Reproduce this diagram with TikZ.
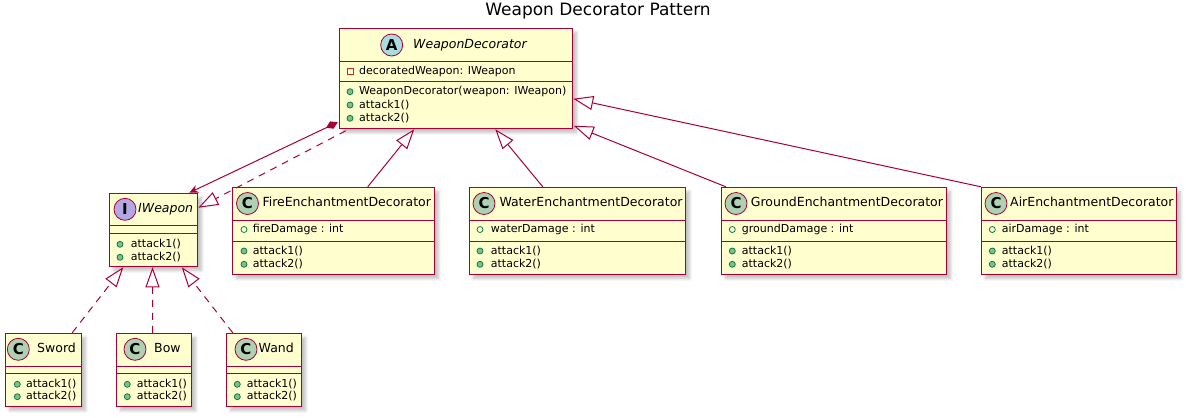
\documentclass[tikz,border=0pt]{standalone}
\usepackage{fontspec}
\setmainfont{DejaVu Sans}
\usetikzlibrary{arrows.meta,shadows.blur,calc}
\definecolor{umlred}{HTML}{A80036}
\definecolor{umlfill}{HTML}{FEFECE}
\definecolor{iconC}{HTML}{ADD1B2}
\definecolor{iconA}{HTML}{A9DCDF}
\definecolor{iconI}{HTML}{B4A7E5}
\definecolor{pubfill}{HTML}{84BE84}
\definecolor{pubdraw}{HTML}{038048}
\definecolor{privdraw}{HTML}{C82930}
\begin{document}
\begin{tikzpicture}[x=1bp,y=-1bp,
  cls/.style={draw=umlred, fill=umlfill, line width=1.5bp, inner sep=0pt,
    blur shadow={shadow xshift=4bp, shadow yshift=-4bp, shadow blur radius=3bp, shadow blur steps=8, shadow opacity=25}},
  icon/.style={circle, draw=umlred, line width=0.8bp, minimum size=22bp, inner sep=0pt,
    font=\fontsize{15bp}{15bp}\selectfont\bfseries},
  cname/.style={anchor=west, inner sep=0pt, text height=9bp, text depth=2.5bp, font=\fontsize{12.5bp}{14bp}\selectfont},
  mem/.style={anchor=west, inner sep=0pt, text height=8.5bp, text depth=2.5bp, font=\fontsize{11bp}{13bp}\selectfont},
  divl/.style={draw=umlred, line width=1.2bp},
  ext/.style={draw=umlred, line width=1bp, -{Triangle[length=20bp,width=14bp,fill=white]}},
  realz/.style={ext, dash pattern=on 7bp off 6bp},
  comp/.style={draw=umlred, line width=1bp, {Diamond[length=13bp,width=8bp,fill=umlred]}-{Stealth[length=9bp,width=8bp,fill=umlred]}},
  pubm/.style={fill=pubfill, draw=pubdraw, line width=0.8bp},
  pubf/.style={draw=pubdraw, line width=0.8bp},
  privf/.style={draw=privdraw, line width=0.8bp}
]
\path[use as bounding box] (0,0) rectangle (1186,417);

% title
\node[inner sep=0pt, font=\fontsize{17bp}{19bp}\selectfont] (title) at (598,11) {Weapon Decorator Pattern};

% ---------- WeaponDecorator ----------
\node[cls, minimum width=233bp, minimum height=100bp] (wd) at (456,78.5) {};
\draw[divl] (339.5,61.5) -- (572.5,61.5);
\draw[divl] (339.5,81.5) -- (572.5,81.5);
\node[icon, fill=iconA] (wdI) at (391.7,45) {A};
\node[cname, font=\fontsize{12.5bp}{14bp}\selectfont\itshape] (wdN) at (413,45) {WeaponDecorator};
\draw[privf] (347,68.7) rectangle (353,74.7);
\node[mem] (wdF1) at (359,71.7) {decoratedWeapon: IWeapon};
\fill[pubm] (350,91.7) circle (3bp);
\node[mem] (wdM1) at (359,91.7) {WeaponDecorator(weapon: IWeapon)};
\fill[pubm] (350,105) circle (3bp);
\node[mem] (wdM2) at (359,105) {attack1()};
\fill[pubm] (350,118.3) circle (3bp);
\node[mem] (wdM3) at (359,118.3) {attack2()};

% ---------- IWeapon ----------
\node[cls, minimum width=88bp, minimum height=73bp] (iw) at (153.5,230) {};
\draw[divl] (109.5,225.5) -- (197.5,225.5);
\draw[divl] (109.5,233.5) -- (197.5,233.5);
\node[icon, fill=iconI] (iwI) at (125,209.3) {I};
\node[cname, font=\fontsize{12.5bp}{14bp}\selectfont\itshape] (iwN) at (138,209.3) {IWeapon};
\fill[pubm] (120,244.3) circle (3bp);
\node[mem] (iwM1) at (130.7,244.3) {attack1()};
\fill[pubm] (120,257.3) circle (3bp);
\node[mem] (iwM2) at (130.7,257.3) {attack2()};

% ---------- FireEnchantmentDecorator ----------
\node[cls, minimum width=202bp, minimum height=87bp] (fire) at (333.5,231) {};
\draw[divl] (232.5,220.5) -- (434.5,220.5);
\draw[divl] (232.5,241.5) -- (434.5,241.5);
\node[icon, fill=iconC] (fireI) at (247.5,203.5) {C};
\node[cname] (fireN) at (262.3,203.5) {FireEnchantmentDecorator};
\draw[pubf] (244,229.5) circle (3bp);
\node[mem] (fireF1) at (252.7,229.5) {fireDamage : int};
\fill[pubm] (244,251) circle (3bp);
\node[mem] (fireM1) at (252.7,251) {attack1()};
\fill[pubm] (244,264.3) circle (3bp);
\node[mem] (fireM2) at (252.7,264.3) {attack2()};

% ---------- WaterEnchantmentDecorator ----------
\node[cls, minimum width=216bp, minimum height=87bp] (water) at (577.5,231) {};
\draw[divl] (469.5,220.5) -- (685.5,220.5);
\draw[divl] (469.5,241.5) -- (685.5,241.5);
\node[icon, fill=iconC] (waterI) at (484,203.5) {C};
\node[cname] (waterN) at (499.3,203.5) {WaterEnchantmentDecorator};
\draw[pubf] (480,229.5) circle (3bp);
\node[mem] (waterF1) at (490.7,229.5) {waterDamage : int};
\fill[pubm] (480,251) circle (3bp);
\node[mem] (waterM1) at (490.7,251) {attack1()};
\fill[pubm] (480,264.3) circle (3bp);
\node[mem] (waterM2) at (490.7,264.3) {attack2()};

% ---------- GroundEnchantmentDecorator ----------
\node[cls, minimum width=225bp, minimum height=87bp] (ground) at (834,231) {};
\draw[divl] (721.5,220.5) -- (946.5,220.5);
\draw[divl] (721.5,241.5) -- (946.5,241.5);
\node[icon, fill=iconC] (groundI) at (736,203.5) {C};
\node[cname] (groundN) at (750.7,203.5) {GroundEnchantmentDecorator};
\draw[pubf] (732.3,229.5) circle (3bp);
\node[mem] (groundF1) at (741.7,229.5) {groundDamage : int};
\fill[pubm] (732.3,251) circle (3bp);
\node[mem] (groundM1) at (741.7,251) {attack1()};
\fill[pubm] (732.3,264.3) circle (3bp);
\node[mem] (groundM2) at (741.7,264.3) {attack2()};

% ---------- AirEnchantmentDecorator ----------
\node[cls, minimum width=195bp, minimum height=87bp] (air) at (1079,231) {};
\draw[divl] (981.5,220.5) -- (1176.5,220.5);
\draw[divl] (981.5,241.5) -- (1176.5,241.5);
\node[icon, fill=iconC] (airI) at (996,203.5) {C};
\node[cname] (airN) at (1010,203.5) {AirEnchantmentDecorator};
\draw[pubf] (992.3,229.5) circle (3bp);
\node[mem] (airF1) at (1001.7,229.5) {airDamage : int};
\fill[pubm] (992.3,251) circle (3bp);
\node[mem] (airM1) at (1001.7,251) {attack1()};
\fill[pubm] (992.3,264.3) circle (3bp);
\node[mem] (airM2) at (1001.7,264.3) {attack2()};

% ---------- Sword ----------
\node[cls, minimum width=76bp, minimum height=73bp] (sword) at (43.5,370) {};
\draw[divl] (5.5,366.5) -- (81.5,366.5);
\draw[divl] (5.5,373.5) -- (81.5,373.5);
\node[icon, fill=iconC] (swordI) at (18.3,349.3) {C};
\node[cname] (swordN) at (37,349.3) {Sword};
\fill[pubm] (17.3,384.3) circle (3bp);
\node[mem] (swordM1) at (26,384.3) {attack1()};
\fill[pubm] (17.3,396.7) circle (3bp);
\node[mem] (swordM2) at (26,396.7) {attack2()};

% ---------- Bow ----------
\node[cls, minimum width=75bp, minimum height=73bp] (bow) at (154,370) {};
\draw[divl] (116.5,366.5) -- (191.5,366.5);
\draw[divl] (116.5,373.5) -- (191.5,373.5);
\node[icon, fill=iconC] (bowI) at (135,349.3) {C};
\node[cname] (bowN) at (154,349.3) {Bow};
\fill[pubm] (127.3,384.3) circle (3bp);
\node[mem] (bowM1) at (136.7,384.3) {attack1()};
\fill[pubm] (127.3,396.7) circle (3bp);
\node[mem] (bowM2) at (136.7,396.7) {attack2()};

% ---------- Wand ----------
\node[cls, minimum width=75bp, minimum height=73bp] (wand) at (264,370) {};
\draw[divl] (226.5,366.5) -- (301.5,366.5);
\draw[divl] (226.5,373.5) -- (301.5,373.5);
\node[icon, fill=iconC] (wandI) at (246,349.3) {C};
\node[cname] (wandN) at (258.5,349.3) {Wand};
\fill[pubm] (237.3,384.3) circle (3bp);
\node[mem] (wandM1) at (246.7,384.3) {attack1()};
\fill[pubm] (237.3,396.7) circle (3bp);
\node[mem] (wandM2) at (246.7,396.7) {attack2()};

% ---------- connectors ----------
\draw[comp] ([shift={(-1,-7)}]wd.south west) -- ([shift={(80.5,0)}]iw.north west);
\draw[realz] ([shift={(7,1.5)}]wd.south west) -- ([shift={(0,15)}]iw.north east);
\draw[ext] ([shift={(136,0)}]fire.north west) -- ([shift={(75.5,0)}]wd.south west);
\draw[ext] ([shift={(74,0)}]water.north west) -- ([shift={(156.5,0)}]wd.south west);
\draw[ext] ([shift={(5,0)}]ground.north west) -- ([shift={(0.5,-3.5)}]wd.south east);
\draw[ext] (air.north west) -- ([shift={(0,71)}]wd.north east);
\draw[realz] ([shift={(67.5,0)}]sword.north west) -- ([shift={(14.5,0)}]iw.south west);
\draw[realz] ([shift={(36.75,0)}]bow.north west) -- ([shift={(43.75,0)}]iw.south west);
\draw[realz] ([shift={(7,0)}]wand.north west) -- ([shift={(73,0)}]iw.south west);
\end{tikzpicture}
\end{document}
